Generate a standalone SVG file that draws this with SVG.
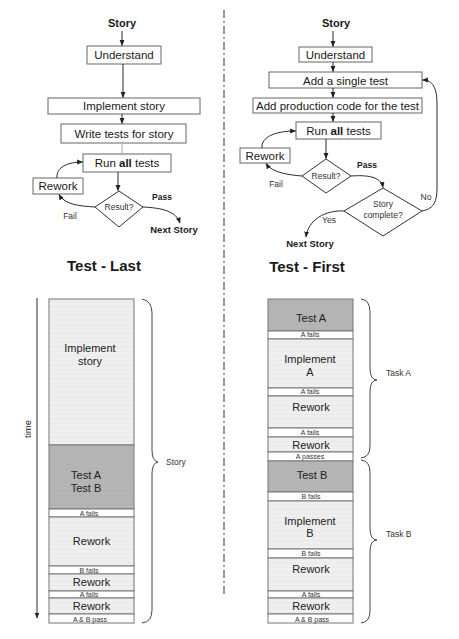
<svg xmlns="http://www.w3.org/2000/svg" width="459" height="639" viewBox="0 0 459 639">
<defs>
<marker id="ah" viewBox="0 0 10 10" refX="9" refY="5" markerWidth="6" markerHeight="6" orient="auto-start-reverse" markerUnits="userSpaceOnUse"><path d="M0,1 L10,5 L0,9 z" fill="#222"/></marker>
<pattern id="lg" width="6" height="4.5" patternUnits="userSpaceOnUse"><rect width="6" height="4.5" fill="#efefef"/><path d="M0,0.3H6" stroke="#e3e3e3" stroke-width="0.6"/></pattern>
<pattern id="dg" width="6" height="4.5" patternUnits="userSpaceOnUse"><rect width="6" height="4.5" fill="#b5b5b5"/><path d="M0,0.3H6" stroke="#adadad" stroke-width="0.6"/></pattern>
</defs>
<style>
text{font-family:"Liberation Sans",Arial,sans-serif;fill:#1a1a1a;text-anchor:middle}
.box{fill:#fff;stroke:#666;stroke-width:1}
.bt{font-size:11.5px}
.h{font-size:11px;font-weight:bold}
.lab{font-size:8.5px;fill:#333}
.lb{font-size:8.5px;font-weight:bold}
.ns{font-size:9.5px;font-weight:bold}
.ttl{font-size:15px;font-weight:bold}
.con{fill:none;stroke:#2a2a2a;stroke-width:1}
.arr{marker-end:url(#ah)}
.col{stroke:#777;stroke-width:1}
.tx{font-size:11px;fill:#222}
.sm{font-size:7px;fill:#333}
.brace{fill:none;stroke:#444;stroke-width:1}
</style>

<line x1="224" y1="10" x2="224" y2="597" stroke="#9a9a9a" stroke-width="2" stroke-dasharray="8 3 2 3"/>

<!-- Left flowchart -->
<g id="l-story"><text class="h" x="122" y="27">Story</text></g>
<g id="l-understand"><rect class="box" x="87" y="46" width="74" height="18"/><text class="bt" x="124" y="59">Understand</text></g>
<g id="l-implement"><rect class="box" x="48" y="98" width="152" height="16"/><text class="bt" x="124" y="110">Implement story</text></g>
<g id="l-write"><rect class="box" x="61" y="124" width="125" height="19"/><text class="bt" x="124" y="137.5">Write tests for story</text></g>
<g id="l-run"><rect class="box" x="83" y="154" width="88" height="18"/><text class="bt" x="127" y="167">Run <tspan font-weight="bold">all</tspan> tests</text></g>
<g id="l-result"><path class="box" d="M95,207 L119,191 L143,207 L119,227 z" style="stroke:#333"/><text class="lab" x="119" y="210">Result?</text></g>
<g id="l-rework"><rect class="box" x="33" y="178" width="50" height="16"/><text class="bt" x="58" y="190">Rework</text></g>
<g id="l-next"><text class="ns" x="174" y="233">Next Story</text></g>
<g id="l-labels"><text class="lab" x="70" y="219">Fail</text><text class="lb" x="162" y="200">Pass</text></g>

<!-- Right flowchart -->
<g id="r-story"><text class="h" x="336" y="27">Story</text></g>
<g id="r-understand"><rect class="box" x="299" y="47" width="73" height="15"/><text class="bt" x="335.5" y="59">Understand</text></g>
<g id="r-addtest"><rect class="box" x="269" y="72" width="153" height="16"/><text class="bt" x="345.5" y="84.5">Add a single test</text></g>
<g id="r-addcode"><rect class="box" x="253" y="98" width="169" height="15"/><text class="bt" x="337.5" y="110">Add production code for the test</text></g>
<g id="r-run"><rect class="box" x="296" y="122" width="85" height="17"/><text class="bt" x="338.5" y="135">Run <tspan font-weight="bold">all</tspan> tests</text></g>
<g id="r-result"><path class="box" d="M302,176 L326,159 L351,176 L326,193 z" style="stroke:#333"/><text class="lab" x="326" y="179">Result?</text></g>
<g id="r-rework"><rect class="box" x="240" y="148" width="50" height="15"/><text class="bt" x="265" y="160">Rework</text></g>
<g id="r-complete"><path class="box" d="M344,211 L383,188 L422,211 L383,236 z" style="stroke:#333"/><text class="lab" x="383" y="207">Story</text><text class="lab" x="383" y="218">complete?</text></g>
<g id="r-next"><text class="ns" x="310" y="247">Next Story</text></g>
<g id="r-labels"><text class="lab" x="276" y="187">Fail</text><text class="lb" x="367" y="168">Pass</text><text class="lab" x="426" y="200">No</text><text class="lab" x="329" y="223">Yes</text></g>

<g id="connectors">
<line class="con arr" x1="122" y1="31" x2="122" y2="45.5"/>
<line class="con arr" x1="123" y1="64" x2="123" y2="97.5"/>
<line class="con arr" x1="122" y1="114" x2="122" y2="123.5"/>
<line x1="122" y1="143" x2="122" y2="154" stroke="#aaa" stroke-width="1"/>
<line class="con arr" x1="118" y1="172" x2="118" y2="190.5"/>
<path class="con arr" d="M57,178 C56,167 68,162 82.5,162"/>
<path class="con arr" d="M95,207 C80,206 65,205 59,194.5"/>
<path class="con arr" d="M143,207 C162,208 176,211 180,223"/>

<line class="con arr" x1="333" y1="31" x2="333" y2="46.5"/>
<line class="con arr" x1="333" y1="62" x2="333" y2="71.5"/>
<line class="con arr" x1="333" y1="88" x2="333" y2="97.5"/>
<line class="con arr" x1="333" y1="113" x2="333" y2="121.5"/>
<line class="con arr" x1="326" y1="139" x2="326" y2="158.5"/>
<path class="con arr" d="M262,148 C261,137 275,131 295.5,131"/>
<path class="con arr" d="M302,176 C290,175 272,173 266,163.5"/>
<path class="con arr" d="M351,176 C366,175 381,176 383,187.5"/>
<path class="con arr" d="M422,211 C438,208 437,196 437,180 L437,104 C437,88 433,80 422.5,80"/>
<path class="con arr" d="M344,211 C325,210 308,220 306,237"/>
</g>

<!-- Titles -->
<text class="ttl" x="104" y="271">Test - Last</text>
<text class="ttl" x="307" y="272">Test - First</text>

<!-- Left timeline -->
<g id="time-axis">
<line class="con arr" x1="37" y1="298" x2="37" y2="618"/>
<text font-size="9.5" transform="translate(31,429) rotate(-90)">time</text>
</g>
<g id="tl-left">
<rect class="col" x="49" y="299" width="85" height="146" fill="url(#lg)"/>
<rect class="col" x="49" y="445" width="85" height="64" fill="url(#dg)"/>
<rect class="col" x="49" y="509" width="85" height="8" fill="#fff"/>
<rect class="col" x="49" y="517" width="85" height="49" fill="url(#lg)"/>
<rect class="col" x="49" y="566" width="85" height="8" fill="#fff"/>
<rect class="col" x="49" y="574" width="85" height="17" fill="url(#lg)"/>
<rect class="col" x="49" y="591" width="85" height="7" fill="#fff"/>
<rect class="col" x="49" y="598" width="85" height="16" fill="url(#lg)"/>
<rect class="col" x="49" y="614" width="85" height="9" fill="#fff"/>
<text class="tx" x="90" y="352">Implement</text>
<text class="tx" x="90" y="365">story</text>
<text class="tx" x="86" y="479">Test A</text>
<text class="tx" x="86" y="492">Test B</text>
<text class="sm" x="89" y="515.5">A fails</text>
<text class="tx" x="91.5" y="545">Rework</text>
<text class="sm" x="89" y="572.5">B fails</text>
<text class="tx" x="91.5" y="586">Rework</text>
<text class="sm" x="89" y="596.5">A fails</text>
<text class="tx" x="91.5" y="610">Rework</text>
<text class="sm" x="90" y="621.5">A &amp; B pass</text>
<path class="brace" d="M142,299 Q152,301 152,313 L152,450 Q152,461 158,462 Q152,463 152,474 L152,610 Q152,622 142,623"/>
<text class="lab" x="166" y="465" style="text-anchor:start">Story</text>
</g>

<!-- Right timeline -->
<g id="tl-right">
<rect class="col" x="268" y="299" width="85" height="32" fill="url(#dg)"/>
<rect class="col" x="268" y="331" width="85" height="8" fill="#fff"/>
<rect class="col" x="268" y="339" width="85" height="49" fill="url(#lg)"/>
<rect class="col" x="268" y="388" width="85" height="8" fill="#fff"/>
<rect class="col" x="268" y="396" width="85" height="32" fill="url(#lg)"/>
<rect class="col" x="268" y="428" width="85" height="9" fill="#fff"/>
<rect class="col" x="268" y="437" width="85" height="15" fill="url(#lg)"/>
<rect class="col" x="268" y="452" width="85" height="9" fill="#fff"/>
<rect class="col" x="268" y="461" width="85" height="31" fill="url(#dg)"/>
<rect class="col" x="268" y="492" width="85" height="9" fill="#fff"/>
<rect class="col" x="268" y="501" width="85" height="48" fill="url(#lg)"/>
<rect class="col" x="268" y="549" width="85" height="9" fill="#fff"/>
<rect class="col" x="268" y="558" width="85" height="33" fill="url(#lg)"/>
<rect class="col" x="268" y="591" width="85" height="7" fill="#fff"/>
<rect class="col" x="268" y="598" width="85" height="16" fill="url(#lg)"/>
<rect class="col" x="268" y="614" width="85" height="9" fill="#fff"/>
<text class="tx" x="311" y="322">Test A</text>
<text class="sm" x="310" y="337">A fails</text>
<text class="tx" x="310" y="363">Implement</text>
<text class="tx" x="310" y="376">A</text>
<text class="sm" x="310" y="394">A fails</text>
<text class="tx" x="311" y="411">Rework</text>
<text class="sm" x="310" y="435">A fails</text>
<text class="tx" x="311" y="449">Rework</text>
<text class="sm" x="310" y="459">A passes</text>
<text class="tx" x="312" y="479">Test B</text>
<text class="sm" x="311" y="499">B fails</text>
<text class="tx" x="310" y="525">Implement</text>
<text class="tx" x="310" y="537">B</text>
<text class="sm" x="311" y="556">B fails</text>
<text class="tx" x="311" y="573">Rework</text>
<text class="sm" x="311" y="596.5">A fails</text>
<text class="tx" x="311" y="610">Rework</text>
<text class="sm" x="312" y="621.5">A &amp; B pass</text>
<path class="brace" d="M361,299 Q370,300 370,312 L370,368 Q370,380 377,380 Q370,380 370,392 L370,446 Q370,457 361,458"/>
<path class="brace" d="M361,460 Q370,461 370,472 L370,528 Q370,540 377,540 Q370,540 370,552 L370,611 Q370,622 361,623"/>
<text class="lab" x="386" y="376" style="text-anchor:start">Task A</text>
<text class="lab" x="386" y="537" style="text-anchor:start">Task B</text>
</g>
</svg>
